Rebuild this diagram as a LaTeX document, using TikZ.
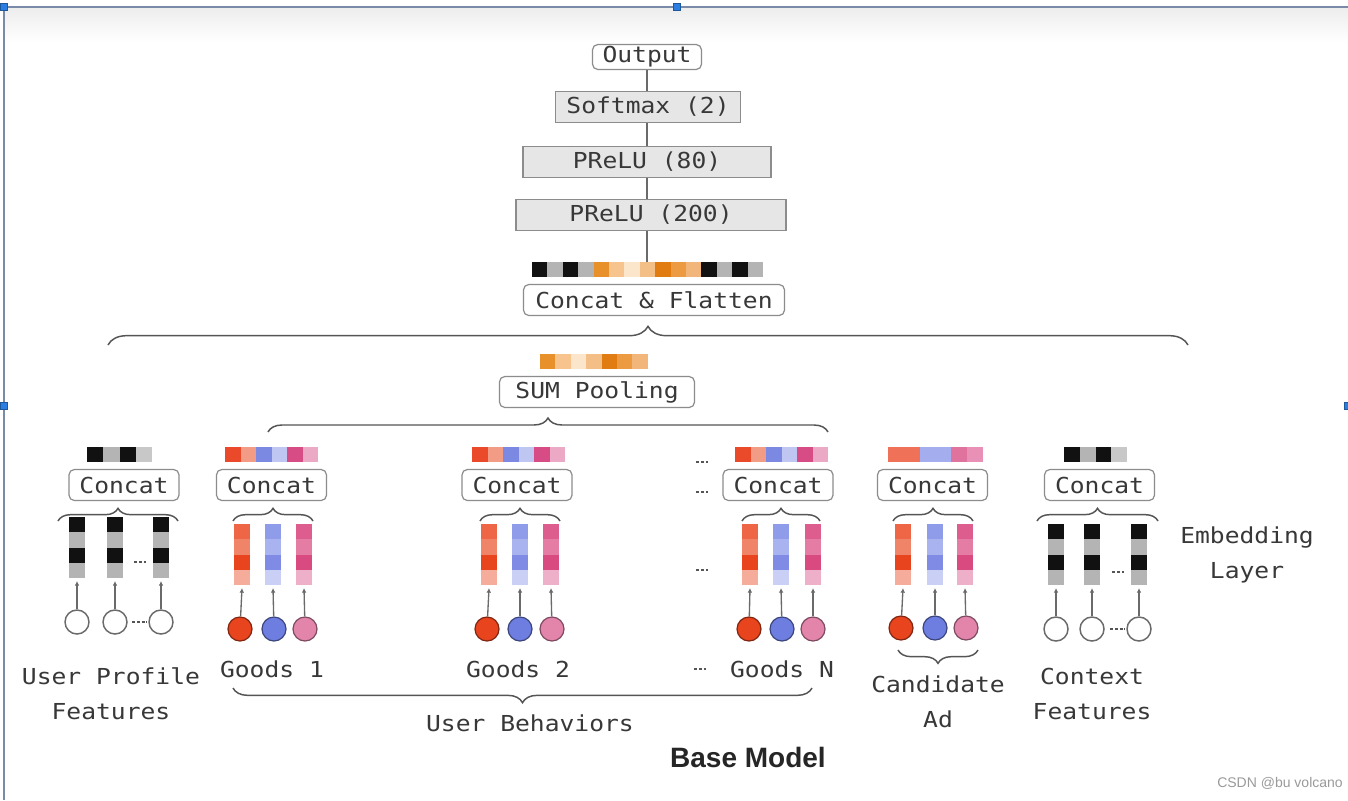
\documentclass[tikz,border=0pt]{standalone}
\usepackage{fontspec}
\newfontfamily\monof[FakeStretch=1.12]{DejaVu Sans Mono}
\newfontfamily\sansf{Liberation Sans}
\usetikzlibrary{decorations.pathreplacing,arrows.meta}
\definecolor{txt}{HTML}{383838}
\definecolor{boxb}{HTML}{8C8C8C}
\definecolor{boxf}{HTML}{E6E6E6}
\definecolor{brcol}{HTML}{555555}
\definecolor{lncol}{HTML}{6A6A6A}
\definecolor{k}{HTML}{111111}
\definecolor{g}{HTML}{B4B4B4}
\definecolor{g2}{HTML}{C8C8C8}
\definecolor{o1}{HTML}{E8902A}
\definecolor{o2}{HTML}{F6C48C}
\definecolor{o3}{HTML}{FBE6CC}
\definecolor{o4}{HTML}{F3BF86}
\definecolor{o5}{HTML}{E07C12}
\definecolor{o6}{HTML}{EC9B42}
\definecolor{o7}{HTML}{F2B57A}
\definecolor{r1}{HTML}{EA4A2A}
\definecolor{r2}{HTML}{F29C86}
\definecolor{b1}{HTML}{7B89E2}
\definecolor{b2}{HTML}{BFC6F2}
\definecolor{p1}{HTML}{D74C84}
\definecolor{p2}{HTML}{ECA9C5}
\definecolor{r3}{HTML}{EF7258}
\definecolor{b3}{HTML}{A4ADEE}
\definecolor{p3}{HTML}{E0739E}
\definecolor{p4}{HTML}{E890B5}
\definecolor{ra}{HTML}{EE6646}
\definecolor{rb}{HTML}{F08468}
\definecolor{rc}{HTML}{E8441E}
\definecolor{rd}{HTML}{F6AC9A}
\definecolor{ba}{HTML}{8F9CEA}
\definecolor{bb}{HTML}{A9B3F0}
\definecolor{bc}{HTML}{7F8BE4}
\definecolor{bd}{HTML}{C9CFF5}
\definecolor{pa}{HTML}{DD5E8E}
\definecolor{pb}{HTML}{E47CA4}
\definecolor{pc}{HTML}{D84A80}
\definecolor{pd}{HTML}{EEAFC8}
\definecolor{cr}{HTML}{E8441E}
\definecolor{cb}{HTML}{6E7EE0}
\definecolor{cp}{HTML}{E385AB}
\definecolor{framec}{HTML}{7A8AA8}
\definecolor{handle}{HTML}{2A7DE1}
\definecolor{wm}{HTML}{9A9A9A}
\definecolor{dotc}{HTML}{555555}
% vertical embedding column: name, x-left, y-top, colours
\newcommand\ecol[4]{%
  \foreach \c [count=\i from 0] in {#4} {\fill[\c] (#2, #3+\i*15.25) rectangle ++(16,15.25);}
  \coordinate (#1) at (#2+8, #3+64);
}
% horizontal colour bar: x-left, y-top, cell width, colours
\newcommand\cbar[4]{%
  \foreach \c [count=\i from 0] in {#4} {\fill[\c] (#1+\i*#3, #2) rectangle ++(#3,15);}
}
\begin{document}
\begin{tikzpicture}[x=0.75pt,y=-0.75pt,
  mfont/.style={font=\monof\fontsize{16.5}{26}\selectfont, text=txt},
  lbl/.style={mfont, align=center, inner sep=0pt},
  gbox/.style={mfont, draw=boxb, fill=boxf, line width=0.9pt, minimum height=31*0.75pt, inner sep=0pt},
  rbox/.style={mfont, draw=boxb, fill=white, rounded corners=4pt, line width=0.9pt, minimum height=31*0.75pt, inner sep=0pt},
  cbox/.style={rbox, minimum width=110*0.75pt},
  brc/.style={draw=brcol, line width=1.1pt, decorate, decoration={brace, amplitude=#1}},
  vline/.style={draw=lncol, line width=0.9pt},
  conn/.style={draw=lncol, line width=1pt, -{Latex[length=3.5pt,width=3.5pt]}},
  wcirc/.style={circle, draw=lncol, fill=white, line width=1.1pt, minimum size=18pt, inner sep=0pt},
  ccirc/.style={circle, draw=#1!55!black, fill=#1, line width=0.9pt, minimum size=18pt, inner sep=0pt},
  dts/.style={draw=dotc, line width=1.3pt, dash pattern=on 2.6pt off 1pt}
]
\useasboundingbox (0,0) rectangle (1348,800);
\fill[white] (0,0) rectangle (1348,800);
\shade[top color=black!7, bottom color=white] (4,8) rectangle (1348,42);

% frame of the screenshot selection
\draw[framec, line width=1.2pt] (4,800) -- (4,7) -- (1348,7);
\foreach \hx/\hy in {4/7, 677/7, 4/406, 1348/406}
  \fill[handle, draw=handle!70!black, line width=0.5pt] (\hx-3.5,\hy-3.5) rectangle ++(7,7);

% ---------------- top stack ----------------
\node[rbox, minimum width=109*0.75pt, minimum height=25*0.75pt] (out) at (647,57) {Output};
\node[gbox, minimum width=185*0.75pt] (sm) at (648,107) {Softmax (2)};
\node[gbox, minimum width=248*0.75pt] (p80) at (647,162) {PReLU (80)};
\node[gbox, minimum width=270*0.75pt] (p200) at (651,215) {PReLU (200)};
\cbar{532}{262}{15.4}{k,g,k,g,o1,o2,o3,o4,o5,o6,o7,k,g,k,g}
\coordinate (cfb) at (647,262);
\node[rbox, minimum width=261*0.75pt] (cf) at (654,300) {Concat \& Flatten};
\draw[vline] (out.south) -- (out.south |- sm.north);
\draw[vline] (out.south |- sm.south) -- (out.south |- p80.north);
\draw[vline] (out.south |- p80.south) -- (out.south |- p200.north);
\draw[vline] (out.south |- p200.south) -- (cfb);

\draw[brc=14pt] (108,345) -- (1188,345);

\cbar{540}{354}{15.4}{o1,o2,o3,o4,o5,o6,o7}
\node[rbox, minimum width=195*0.75pt] (sum) at (597,392) {SUM Pooling};
\draw[brc=10.5pt] (268,432) -- (828,432);

% ---------------- User profile ----------------
\cbar{87}{447}{16.25}{k,g,k,g2}
\node[cbox] (uc) at (124,485) {Concat};
\draw[brc=9.5pt] (58,521) -- (178,521);
\ecol{u1}{69}{517}{k,g,k,g}
\ecol{u2}{107}{517}{k,g,k,g}
\ecol{u3}{153}{517}{k,g,k,g}
\node[wcirc] (u1c) at (77,622) {};
\node[wcirc] (u2c) at (115,622) {};
\node[wcirc] (u3c) at (161,622) {};
\draw[conn] (u1c) -- (u1);
\draw[conn] (u2c) -- (u2);
\draw[conn] (u3c) -- (u3);
\draw[dts] (134,562) -- (146,562);
\draw[dts] (132,622) -- (147,622);
\node[lbl] (ulab) at (111,694) {User Profile\\Features};

% ---------------- Goods 1 ----------------
\cbar{225}{447}{15.5}{r1,r2,b1,b2,p1,p2}
\node[cbox] (g1c) at (271.5,485) {Concat};
\draw[brc=9.5pt] (233,521) -- (313,521);
\ecol{g1a}{234}{524}{ra,rb,rc,rd}
\ecol{g1b}{265}{524}{ba,bb,bc,bd}
\ecol{g1c2}{296}{524}{pa,pb,pc,pd}
\node[ccirc=cr] (g1ac) at (240,629) {};
\node[ccirc=cb] (g1bc) at (274,629) {};
\node[ccirc=cp] (g1cc) at (305,629) {};
\draw[conn] (g1ac) -- (g1a);
\draw[conn] (g1bc) -- (g1b);
\draw[conn] (g1cc) -- (g1c2);
\node[lbl] (g1lab) at (272,669) {Goods 1};

% ---------------- Goods 2 ----------------
\cbar{472}{447}{15.5}{r1,r2,b1,b2,p1,p2}
\node[cbox] (g2c) at (517,485) {Concat};
\draw[brc=9.5pt] (480,521) -- (560,521);
\ecol{g2a}{481}{524}{ra,rb,rc,rd}
\ecol{g2b}{512}{524}{ba,bb,bc,bd}
\ecol{g2c2}{543}{524}{pa,pb,pc,pd}
\node[ccirc=cr] (g2ac) at (487,629) {};
\node[ccirc=cb] (g2bc) at (520,629) {};
\node[ccirc=cp] (g2cc) at (552,629) {};
\draw[conn] (g2ac) -- (g2a);
\draw[conn] (g2bc) -- (g2b);
\draw[conn] (g2cc) -- (g2c2);
\node[lbl] (g2lab) at (518,669) {Goods 2};

% ---------------- Goods N ----------------
\cbar{735}{447}{15.5}{r1,r2,b1,b2,p1,p2}
\node[cbox] (gnc) at (778,485) {Concat};
\draw[brc=9.5pt] (742,521) -- (820,521);
\ecol{gna}{742}{524}{ra,rb,rc,rd}
\ecol{gnb}{773}{524}{ba,bb,bc,bd}
\ecol{gnc2}{805}{524}{pa,pb,pc,pd}
\node[ccirc=cr] (gnac) at (749,629) {};
\node[ccirc=cb] (gnbc) at (782,629) {};
\node[ccirc=cp] (gncc) at (813,629) {};
\draw[conn] (gnac) -- (gna);
\draw[conn] (gnbc) -- (gnb);
\draw[conn] (gncc) -- (gnc2);
\node[lbl] (gnlab) at (782,669) {Goods N};
\draw[dts] (696,462) -- (708,462);
\draw[dts] (696,492) -- (708,492);
\draw[dts] (696,570) -- (708,570);
\draw[dts] (694,669) -- (706,669);

\draw[brc=11pt] (812,688) -- (233,688);
\node[lbl] (ublab) at (530,723) {User Behaviors};

% ---------------- Candidate Ad ----------------
\cbar{888}{447}{15.75}{r3,r3,b3,b3,p3,p4}
\node[cbox] (cac) at (932.5,485) {Concat};
\draw[brc=9.5pt] (893,521) -- (973,521);
\ecol{caa}{895}{524}{ra,rb,rc,rd}
\ecol{cab}{927}{524}{ba,bb,bc,bd}
\ecol{cac2}{957}{524}{pa,pb,pc,pd}
\node[ccirc=cr] (caac) at (901,628) {};
\node[ccirc=cb] (cabc) at (935,628) {};
\node[ccirc=cp] (cacc) at (966,628) {};
\draw[conn] (caac) -- (caa);
\draw[conn] (cabc) -- (cab);
\draw[conn] (cacc) -- (cac2);
\draw[brc=10pt] (978,650) -- (898,650);
\node[lbl] (calab) at (938,702) {Candidate\\Ad};

% ---------------- Context features ----------------
\cbar{1064}{447}{15.75}{k,g,k,g2}
\node[cbox] (cxc) at (1099.5,485) {Concat};
\draw[brc=9.5pt] (1037,521) -- (1158,521);
\ecol{cx1}{1048}{524}{k,g,k,g}
\ecol{cx2}{1084}{524}{k,g,k,g}
\ecol{cx3}{1131}{524}{k,g,k,g}
\node[wcirc] (cx1c) at (1056,629) {};
\node[wcirc] (cx2c) at (1092,629) {};
\node[wcirc] (cx3c) at (1139,629) {};
\draw[conn] (cx1c) -- (cx1);
\draw[conn] (cx2c) -- (cx2);
\draw[conn] (cx3c) -- (cx3);
\draw[dts] (1112,572) -- (1124,572);
\draw[dts] (1110,629) -- (1125,629);
\node[lbl] (cxlab) at (1092,694) {Context\\Features};

\node[lbl] (emb) at (1247,555) {Embedding\\Layer};
\node[font=\sansf\bfseries\fontsize{21}{24}\selectfont, text=black!85, inner sep=0pt] (base) at (748,757) {Base Model};
\node[font=\sansf\fontsize{10.5}{13}\selectfont, text=wm, inner sep=0pt] (wmk) at (1280,783) {CSDN @bu volcano};
\end{tikzpicture}
\end{document}
